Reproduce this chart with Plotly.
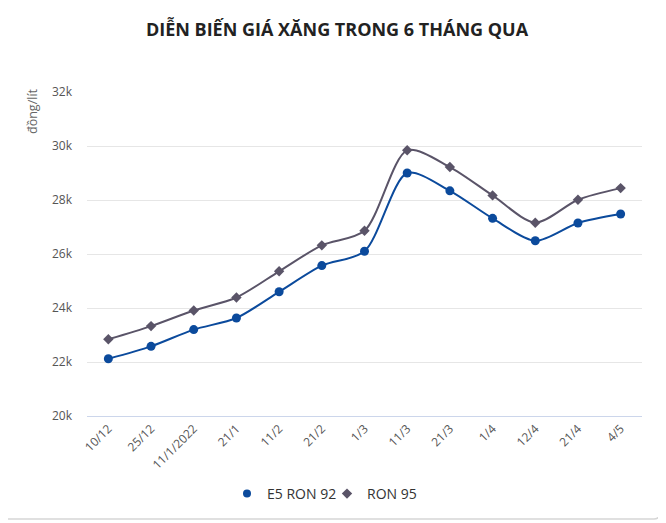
import plotly.graph_objects as go

# dates of each price adjustment
dates = ['10/12', '25/12', '11/1/2022', '21/1', '11/2', '21/2', '1/3',
         '11/3', '21/3', '1/4', '12/4', '21/4', '4/5']

# prices, dong per litre
e5_ron92 = [22120, 22580, 23200, 23630, 24600, 25570, 26100,
            29000, 28340, 27320, 26490, 27150, 27480]
ron95 = [22840, 23330, 23910, 24390, 25360, 26320, 26860,
         29840, 29220, 28170, 27160, 28010, 28440]

names = ['E5 RON 92', 'RON 95']
colors = ['#0b4a9c', '#5a5468']
symbols = ['circle', 'diamond']

# page has an 8px body margin, so the figure is shifted by it
O = 8
W, H = 666 - O, 523 - O
L, T = 87 - O, 92 - O
pw, ph = 555, 324
R, B = W - L - pw, H - T - ph

def px(x):
    # page pixel -> paper x
    return (x - O - L) / pw

def py(y):
    # page pixel -> paper y
    return (T + ph - (y - O)) / ph

def rounded_box(x0, y0, x1, y1, r):
    rx, ry = r / pw, r / ph
    a, b, c, d = px(x0), py(y1), px(x1), py(y0)
    return (f'M {a + rx},{b} L {c - rx},{b} Q {c},{b} {c},{b + ry} '
            f'L {c},{d - ry} Q {c},{d} {c - rx},{d} L {a + rx},{d} '
            f'Q {a},{d} {a},{d - ry} L {a},{b + ry} Q {a},{b} {a + rx},{b} Z')

fig = go.Figure()

for vals, name, col, sym, size in zip([e5_ron92, ron95], names, colors, symbols, [9, 8]):
    fig.add_trace(go.Scatter(
        x=dates, y=vals, name=name,
        mode='lines+markers', showlegend=False,
        line=dict(color=col, width=2, shape='spline', smoothing=0.8),
        marker=dict(symbol=sym, size=size, color=col),
    ))

# legend shows markers only
for name, col, sym in zip(names, colors, symbols):
    fig.add_trace(go.Scatter(
        x=[None], y=[None], name=name, mode='markers',
        marker=dict(symbol=sym, size=8, color=col),
    ))

fig.update_layout(
    width=W, height=H,
    margin=dict(l=L, r=R, t=T, b=B),
    paper_bgcolor='white',
    plot_bgcolor='white',
    font=dict(family='Open Sans', color='#555555'),
    title=dict(
        text='<b>DIỄN BIẾN GIÁ XĂNG TRONG 6 THÁNG QUA</b>',
        x=0.5, xanchor='center', y=1 - (30 - O) / H, yanchor='middle',
        font=dict(family='Open Sans', size=18, color='#222222'),
    ),
    xaxis=dict(
        type='category',
        range=[-0.5, len(dates) - 0.5],
        tickangle=-45,
        tickfont=dict(size=12, color='#555555'),
        showgrid=False,
        zeroline=False,
        showline=True, linecolor='#ccd6eb', linewidth=1,
        ticks='',
        fixedrange=True,
    ),
    yaxis=dict(
        range=[20000, 32000],
        dtick=2000,
        tickformat='~s',
        tickfont=dict(size=12, color='#555555'),
        showgrid=True, gridcolor='#e6e6e6', gridwidth=1,
        zeroline=False,
        ticks='',
        ticklabelstandoff=14,
        fixedrange=True,
    ),
    legend=dict(
        orientation='h',
        x=px(249 - 22), xanchor='left',
        y=py(494), yanchor='middle',
        font=dict(size=14, color='#333333'),
        itemwidth=30,
        entrywidth=55, entrywidthmode='pixels',
    ),
    annotations=[dict(
        text='đồng/lít', textangle=-90,
        xref='paper', yref='paper',
        x=px(32), y=py(111), xanchor='center', yanchor='middle',
        showarrow=False,
        font=dict(size=12.5, color='#666666'),
    )],
    shapes=[dict(
        type='path', xref='paper', yref='paper',
        path=rounded_box(3, 3, 660, 519, 6),
        line=dict(color='#d6d6d6', width=1.5),
        layer='below',
    )],
)

fig.write_html('out.html')
